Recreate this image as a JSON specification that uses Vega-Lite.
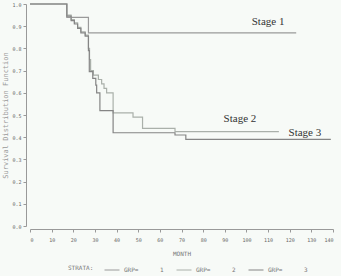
{
  "$schema": "https://vega.github.io/schema/vega-lite/v6.json",
  "width": 303,
  "height": 222,
  "autosize": {"type": "none"},
  "padding": {"left": 30, "top": 4, "right": 8, "bottom": 50},
  "background": "#f7faf7",
  "config": {"view": {"stroke": null}},
  "datasets": {
    "curves": [
      {"month": 0, "surv": 1.0, "grp": "1"},
      {"month": 17, "surv": 0.94, "grp": "1"},
      {"month": 27, "surv": 0.87, "grp": "1"},
      {"month": 123, "surv": 0.87, "grp": "1"},

      {"month": 0, "surv": 1.0, "grp": "2"},
      {"month": 17, "surv": 0.95, "grp": "2"},
      {"month": 19, "surv": 0.93, "grp": "2"},
      {"month": 20.5, "surv": 0.915, "grp": "2"},
      {"month": 22, "surv": 0.895, "grp": "2"},
      {"month": 23.5, "surv": 0.875, "grp": "2"},
      {"month": 25.5, "surv": 0.86, "grp": "2"},
      {"month": 27, "surv": 0.8, "grp": "2"},
      {"month": 27.5, "surv": 0.75, "grp": "2"},
      {"month": 28, "surv": 0.7, "grp": "2"},
      {"month": 29.3, "surv": 0.68, "grp": "2"},
      {"month": 31.6, "surv": 0.66, "grp": "2"},
      {"month": 33.1, "surv": 0.64, "grp": "2"},
      {"month": 34.2, "surv": 0.62, "grp": "2"},
      {"month": 35.4, "surv": 0.6, "grp": "2"},
      {"month": 38.4, "surv": 0.51, "grp": "2"},
      {"month": 47.6, "surv": 0.49, "grp": "2"},
      {"month": 52, "surv": 0.44, "grp": "2"},
      {"month": 67, "surv": 0.425, "grp": "2"},
      {"month": 115, "surv": 0.425, "grp": "2"},

      {"month": 0, "surv": 1.0, "grp": "3"},
      {"month": 17, "surv": 0.945, "grp": "3"},
      {"month": 19, "surv": 0.925, "grp": "3"},
      {"month": 20.5, "surv": 0.91, "grp": "3"},
      {"month": 22, "surv": 0.89, "grp": "3"},
      {"month": 23.5, "surv": 0.87, "grp": "3"},
      {"month": 25.5, "surv": 0.855, "grp": "3"},
      {"month": 27, "surv": 0.79, "grp": "3"},
      {"month": 27.4, "surv": 0.695, "grp": "3"},
      {"month": 29, "surv": 0.665, "grp": "3"},
      {"month": 30.4, "surv": 0.635, "grp": "3"},
      {"month": 30.8, "surv": 0.6, "grp": "3"},
      {"month": 32.3, "surv": 0.52, "grp": "3"},
      {"month": 38.4, "surv": 0.42, "grp": "3"},
      {"month": 67, "surv": 0.41, "grp": "3"},
      {"month": 72, "surv": 0.39, "grp": "3"},
      {"month": 139, "surv": 0.39, "grp": "3"}
    ],
    "labels": [
      {"label": "Stage  1", "month": 110, "surv": 0.92},
      {"label": "Stage  2", "month": 97, "surv": 0.48},
      {"label": "Stage  3", "month": 127, "surv": 0.42}
    ]
  },
  "encoding": {
    "x": {
      "field": "month", "type": "quantitative",
      "scale": {"domain": [0, 140], "nice": false},
      "axis": {
        "values": [0, 10, 20, 30, 40, 50, 60, 70, 80, 90, 100, 110, 120, 130, 140],
        "labelOverlap": false,
        "title": "MONTH", "grid": false, "offset": 3,
        "labelFontSize": 5, "labelColor": "#666", "labelFont": "DejaVu Sans Mono",
        "titleFontSize": 6, "titleColor": "#777", "titleFont": "DejaVu Sans Mono", "titleFontWeight": "normal",
        "titlePadding": 8, "labelPadding": 5,
        "domainColor": "#999", "tickColor": "#999", "tickSize": 3
      }
    },
    "y": {
      "field": "surv", "type": "quantitative",
      "scale": {"domain": [0, 1], "nice": false},
      "axis": {
        "values": [0, 0.1, 0.2, 0.3, 0.4, 0.5, 0.6, 0.7, 0.8, 0.9, 1.0],
        "labelOverlap": false,
        "format": ".1f",
        "title": "Survival Distribution Function", "grid": false, "offset": 4,
        "labelFontSize": 5, "labelColor": "#666", "labelFont": "DejaVu Sans Mono",
        "titleFontSize": 7, "titleColor": "#999", "titleFont": "DejaVu Sans Mono", "titleFontWeight": "normal",
        "titlePadding": 3, "labelPadding": 2,
        "domainColor": "#999", "tickColor": "#999", "tickSize": 3
      }
    }
  },
  "layer": [
    {
      "data": {"name": "curves"},
      "mark": {"type": "line", "interpolate": "step-after", "strokeWidth": 1.2},
      "encoding": {
        "color": {
          "field": "grp", "type": "nominal",
          "scale": {"domain": ["1", "2", "3"], "range": ["#9a9a9a", "#aab0aa", "#858585"]},
          "legend": {
            "orient": "none", "legendX": 38, "legendY": 258,
            "direction": "horizontal",
            "title": "STRATA:", "titleOrient": "left",
            "titleFontSize": 6, "titleColor": "#777", "titleFont": "DejaVu Sans Mono", "titleFontWeight": "normal",
            "labelFontSize": 6, "labelColor": "#777", "labelFont": "DejaVu Sans Mono",
            "labelExpr": "'GRP=\u00a0\u00a0\u00a0\u00a0\u00a0\u00a0' + datum.label",
            "symbolType": "stroke", "symbolSize": 225, "symbolStrokeWidth": 1,
            "columnPadding": 10, "titlePadding": 10
          }
        }
      }
    },
    {
      "data": {"name": "labels"},
      "mark": {"type": "text", "font": "Liberation Serif", "fontSize": 11, "color": "#333"},
      "encoding": {
        "text": {"field": "label"}
      }
    }
  ]
}
